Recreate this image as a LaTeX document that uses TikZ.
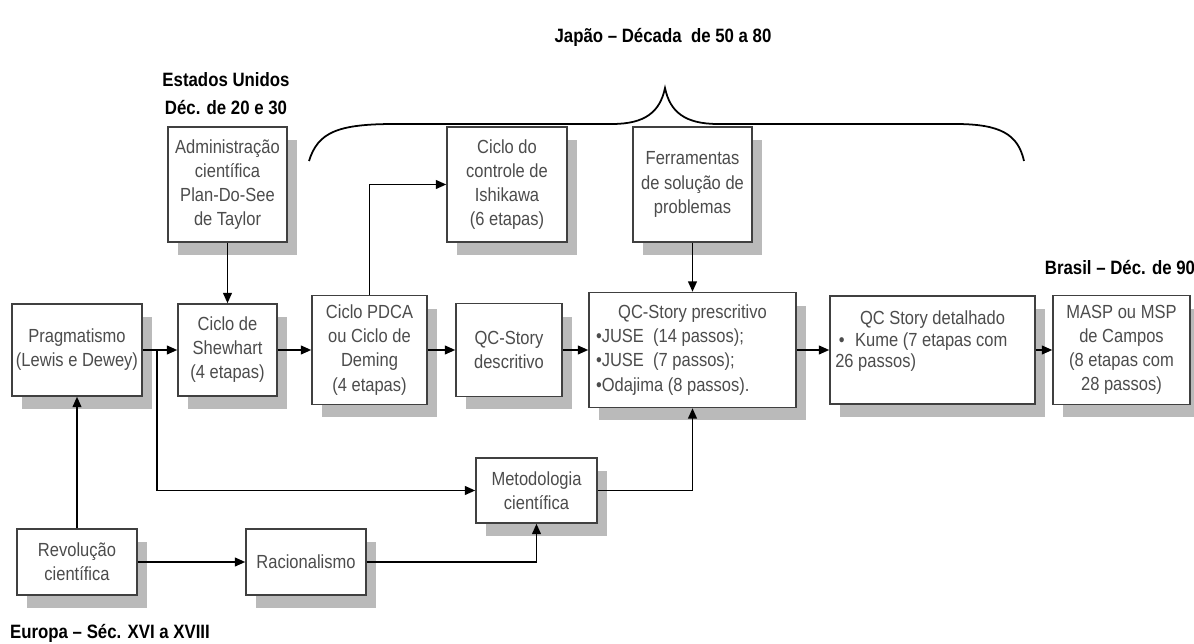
\documentclass[tikz,border=0pt]{standalone}
\usepackage{fontspec}
\setmainfont{Liberation Sans}[FakeStretch=0.87]
\usetikzlibrary{arrows.meta,shadows}
\begin{document}
\begin{tikzpicture}[x=0.02cm,y=-0.02cm]
\tikzstyle{bx} = [draw=black!75,line width=0.8pt,fill=white,text=black!70,align=center,inner sep=2pt,font=\fontsize{10.8}{13.7}\selectfont,drop shadow={shadow xshift=0.2cm,shadow yshift=-0.26cm,fill=black!27,opacity=1}] %box
\tikzstyle{de} = [-{Triangle[length=6pt,width=5pt]},line width=1.1pt] %directed edge
\tikzstyle{lb} = [align=center,font=\fontsize{11}{16}\selectfont\bfseries] %era label
\useasboundingbox (0,0) rectangle (1194,644);
% main row
\node[bx,minimum width=2.6cm,minimum height=1.84cm](bprag)at(77,350){Pragmatismo\\(Lewis e Dewey)};
\node[bx,minimum width=1.98cm,minimum height=1.84cm](bshew)at(227.5,350){Ciclo de\\Shewhart\\(4 etapas)};
\node[bx,minimum width=2.3cm,minimum height=2.18cm](bpdca)at(369.5,350){Ciclo PDCA\\ou Ciclo de\\Deming\\(4 etapas)};
\node[bx,minimum width=2.12cm,minimum height=1.86cm](bdesc)at(509,350){QC-Story\\descritivo};
\node[bx,minimum width=4.14cm,minimum height=2.3cm,inner xsep=4pt,text width=3.86cm,align=flush left](bpresc)at(692.5,350){\makebox[\linewidth]{QC-Story prescritivo}\\•JUSE~~(14 passos);\\•JUSE~~(7 passos);\\•Odajima (8 passos).};
\node[bx,minimum width=4.1cm,minimum height=2.16cm,inner xsep=3pt,text width=3.89cm,align=flush left,font=\fontsize{10.8}{12.3}\selectfont](bdetal)at(932.5,350){\makebox[\linewidth]{QC Story detalhado}\\\hspace{2pt}•\hspace{6pt}Kume (7 etapas com\\26 passos)\\\mbox{}};
\node[bx,minimum width=2.74cm,minimum height=2.18cm](bmasp)at(1121.5,350){MASP ou MSP\\de Campos\\(8 etapas com\\28 passos)};
% upper row
\node[bx,minimum width=2.38cm,minimum height=2.3cm](badmin)at(227.5,184.5){Administração\\científica\\Plan-Do-See\\de Taylor};
\node[bx,minimum width=2.4cm,minimum height=2.3cm](bishi)at(507,184.5){Ciclo do\\controle de\\Ishikawa\\(6 etapas)};
\node[bx,minimum width=2.38cm,minimum height=2.3cm](bferr)at(692.5,184.5){Ferramentas\\de solução de\\problemas};
% lower rows
\node[bx,minimum width=2.42cm,minimum height=1.3cm](bmetod)at(536.5,490.5){Metodologia\\científica};
\node[bx,minimum width=2.4cm,minimum height=1.32cm](brevol)at(77,562){Revolução\\científica};
\node[bx,minimum width=2.4cm,minimum height=1.32cm](bracio)at(306,562){Racionalismo};
% era labels
\node[lb](leua)at(226,94){Estados Unidos\\Déc. de 20 e 30};
\node[lb](ljap)at(663,37){Japão -- Década~ de 50 a 80};
\node[lb](lbra)at(1120,268){Brasil -- Déc. de 90};
\node[lb](leur)at(110,633){Europa -- Séc. XVI a XVIII};
\draw[line width=1pt](309,161) .. controls (318,132) and (338,124) .. (395,124) -- (612,124) .. controls (645,124) and (660,112) .. (665,88) .. controls (670,112) and (685,124) .. (718,124) -- (955,124) .. controls (1000,124) and (1018,134) .. (1024,161);
% connectors
\coordinate(jprag)at(157,350);
\draw[de](bprag)--(bshew);
\draw[de](jprag)|-(bmetod);
\draw[de](badmin)--(bshew);
\draw[de](bshew)--(bpdca);
\draw[de](bpdca)|-(bishi);
\draw[de](bpdca)--(bdesc);
\draw[de](bdesc)--(bpresc);
\draw[de](bferr)--(bpresc);
\draw[de](bpresc)--(bdetal);
\draw[de](bdetal)--(bmasp);
\draw[de](brevol)--(bprag);
\draw[de](brevol)--(bracio);
\draw[de](bracio)-|(bmetod);
\draw[de](bmetod)-|(bpresc);
\end{tikzpicture}
\end{document}
